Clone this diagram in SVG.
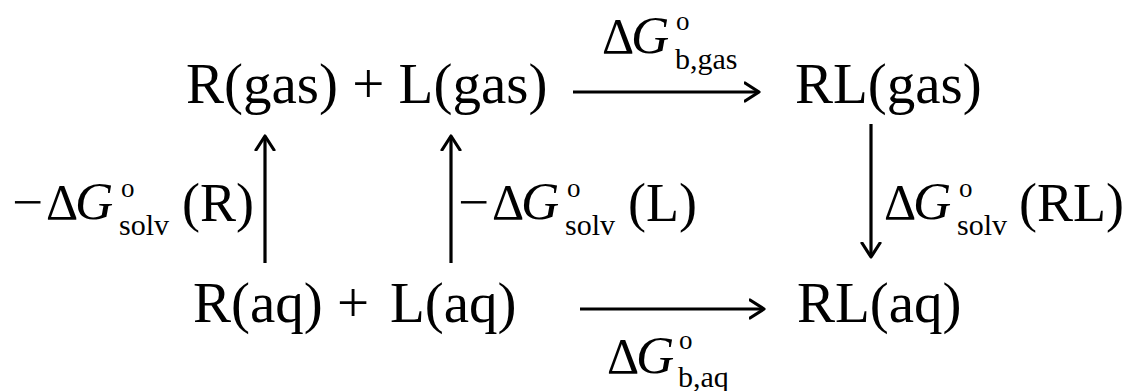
<svg xmlns="http://www.w3.org/2000/svg" width="1131" height="391" viewBox="0 0 1131 391">
<defs>
<style>
text{font-family:"Liberation Serif","Times New Roman",serif;fill:#000}
.main{font-size:57px}
.big{font-size:50px}
.it{font-style:italic;font-size:53px}
.sup{font-size:27px}
.sub{font-size:30px}
.par{font-size:54px}
.arr{stroke:#000;stroke-width:3.2;fill:none}
</style>
<marker id="head" markerUnits="userSpaceOnUse" markerWidth="20" markerHeight="24" refX="15" refY="10" orient="auto" viewBox="0 0 20 20">
<path d="M1,1 L15,10 L1,19" fill="none" stroke="#000" stroke-width="3.2" stroke-linecap="round" stroke-linejoin="round"/>
</marker>
</defs>
<rect width="1131" height="391" fill="#fff"/>
<g id="gas-reactants"><text class="main" x="186" y="103">R(gas) + L(gas)</text></g>
<g id="gas-complex"><text class="main" x="795" y="103">RL(gas)</text></g>
<g id="aq-reactants"><text class="main" x="193" y="322">R(aq) +</text><text class="main" x="390" y="322">L(aq)</text></g>
<g id="aq-complex"><text class="main" x="797" y="322">RL(aq)</text></g>
<g id="connectors">
<line class="arr" x1="573" y1="92" x2="759" y2="92" marker-end="url(#head)"/>
<line class="arr" x1="580" y1="309" x2="764" y2="309" marker-end="url(#head)"/>
<line class="arr" x1="265" y1="263" x2="265" y2="136" marker-end="url(#head)"/>
<line class="arr" x1="451" y1="263" x2="451" y2="136" marker-end="url(#head)"/>
<line class="arr" x1="871" y1="124" x2="871" y2="257" marker-end="url(#head)"/>
</g>
<g id="label-b-gas">
<text class="big" x="602" y="53">Δ</text><text class="big it" x="631" y="53">G</text>
<text class="sup" x="676" y="30">o</text><text class="sub" x="675" y="69">b,gas</text>
</g>
<g id="label-b-aq">
<text class="big" x="607" y="373">Δ</text><text class="big it" x="636" y="373">G</text>
<text class="sup" x="679" y="349">o</text><text class="sub" x="678" y="387">b,aq</text>
</g>
<g id="label-solv-R">
<text class="big" x="12" y="219" textLength="31" lengthAdjust="spacingAndGlyphs">−</text><text class="big" x="46" y="219">Δ</text><text class="big it" x="75" y="219">G</text>
<text class="sup" x="121" y="197">o</text><text class="sub" x="119" y="235">solv</text>
<text class="par" x="182" y="221">(R)</text>
</g>
<g id="label-solv-L">
<text class="big" x="458" y="219" textLength="31" lengthAdjust="spacingAndGlyphs">−</text><text class="big" x="492" y="219">Δ</text><text class="big it" x="521" y="219">G</text>
<text class="sup" x="567" y="197">o</text><text class="sub" x="565" y="235">solv</text>
<text class="par" x="628" y="221">(L)</text>
</g>
<g id="label-solv-RL">
<text class="big" x="884" y="219">Δ</text><text class="big it" x="913" y="219">G</text>
<text class="sup" x="959" y="197">o</text><text class="sub" x="957" y="235">solv</text>
<text class="par" x="1019" y="221">(RL)</text>
</g>
</svg>
